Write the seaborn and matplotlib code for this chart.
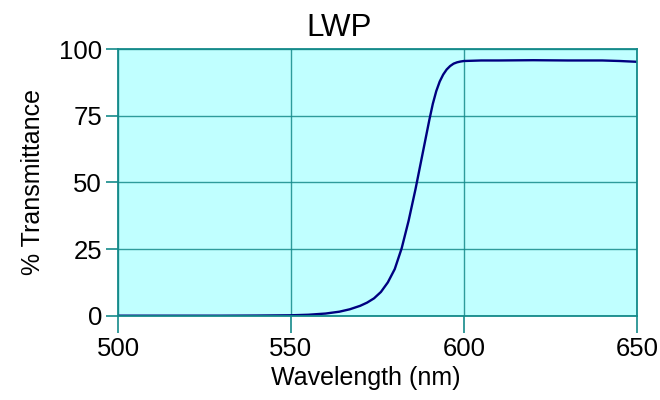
import matplotlib
matplotlib.use("Agg")
import matplotlib.pyplot as plt
import seaborn as sns
import pandas as pd

wavelength = [500, 510, 520, 530, 540, 545, 550, 555, 560, 564, 567, 570, 572, 574,
              576, 578, 580, 582, 584, 586, 588, 590, 591, 592, 593, 594, 595, 596,
              597, 598, 599, 600, 605, 610, 620, 630, 640, 645, 650]
transmittance = [0.0, 0.0, 0.0, 0.0, 0.05, 0.1, 0.15, 0.35, 0.8, 1.5, 2.4, 3.7, 4.9, 6.5,
                 8.9, 12.5, 17.5, 25.3, 35.6, 47.5, 60.5, 73.5, 79.5, 84.3, 87.9, 90.5, 92.4, 93.7,
                 94.6, 95.1, 95.4, 95.6, 95.8, 95.8, 95.9, 95.8, 95.8, 95.6, 95.3]
x_ticks = [500, 550, 600, 650]
y_ticks = [0, 25, 50, 75, 100]

df = pd.DataFrame({"Wavelength (nm)": wavelength, "% Transmittance": transmittance})

sns.set_style("white")
plt.rcParams['font.family'] = ['Liberation Sans', 'DejaVu Sans']
plt.rcParams['text.color'] = 'black'
plt.rcParams['axes.labelcolor'] = 'black'

teal = "#148a8a"
fig = plt.figure(figsize=(6.6, 4.0), dpi=100)
ax = fig.add_axes([0.1788, 0.2108, 0.7862, 0.6660])
ax.set_facecolor("#c0ffff")

sns.lineplot(data=df, x="Wavelength (nm)", y="% Transmittance", ax=ax,
             color="#000080", linewidth=1.7)

ax.set_xlim(500, 650)
ax.set_ylim(0, 100)
ax.set_xticks(x_ticks)
ax.set_yticks(y_ticks)
ax.grid(True, color=teal, linewidth=1.0, alpha=0.85)
ax.set_axisbelow(True)
for s in ax.spines.values():
    s.set_color(teal)
    s.set_linewidth(1.3)
ax.tick_params(axis="both", direction="out", width=1.2, color=teal,
               labelsize=18.5, labelcolor="black", left=True, bottom=True)
ax.tick_params(axis="y", length=8.6, pad=3)
ax.tick_params(axis="x", length=12, pad=3)
ax.set_xlabel("Wavelength (nm)", fontsize=18, color="black")
ax.set_ylabel("% Transmittance", fontsize=18, color="black")
ax.xaxis.set_label_coords(0.478, -0.19)
ax.yaxis.set_label_coords(-0.14, 0.5)
ax.set_title("LWP", fontsize=22.5, pad=9.5, x=0.426, color="black")

fig.savefig("out.png", dpi=100)
